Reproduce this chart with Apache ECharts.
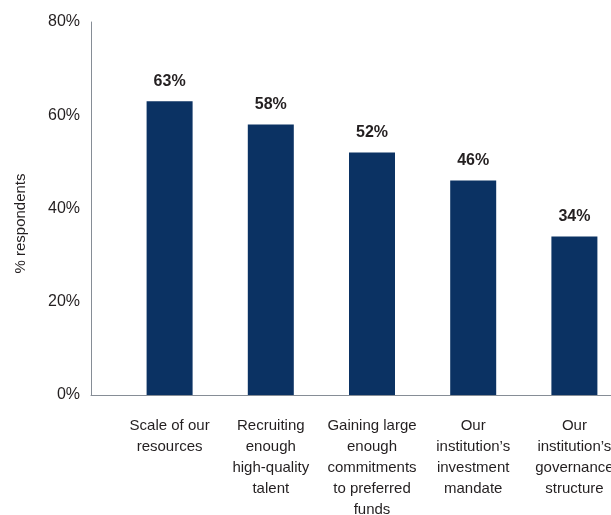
<!DOCTYPE html>
<html>
<head>
<meta charset="utf-8">
<script src="https://cdn.jsdelivr.net/npm/echarts@6/dist/echarts.min.js"></script>
<style>
  html, body { margin: 0; padding: 0; background: #fff; }
  #chart { width: 611px; height: 515px; }
</style>
</head>
<body>
<div id="chart"></div>
<script>
// Obstacles cited by respondents
const categories = [
  'Scale of our\nresources',
  'Recruiting\nenough\nhigh-quality\ntalent',
  'Gaining large\nenough\ncommitments\nto preferred\nfunds',
  'Our\ninstitution\u2019s\ninvestment\nmandate',
  'Our\ninstitution\u2019s\ngovernance\nstructure'
];
const shares = [63, 58, 52, 46, 34];
const yTicks = [0, 20, 40, 60, 80];

const textColor = '#231f20';
const axisColor = '#868d96';
const barColor = '#0b3263';
const font = 'Liberation Sans, Arial, sans-serif';

const chart = echarts.init(document.getElementById('chart'), null, { renderer: 'canvas' });

chart.setOption({
  animation: false,
  backgroundColor: '#fff',
  grid: [
    // frame: y axis and the baseline
    { left: 91, right: 0, top: 22, bottom: 120, containLabel: false, outerBoundsMode: 'none' },
    // bars (the last band runs past the right edge)
    { left: 119, width: 506, top: 22, bottom: 120, containLabel: false, outerBoundsMode: 'none' }
  ],
  xAxis: [
    {
      gridIndex: 0, type: 'value', min: 0, max: 1,
      axisLine: { show: true, lineStyle: { color: axisColor, width: 1 } },
      axisTick: { show: false }, axisLabel: { show: false }, splitLine: { show: false }
    },
    {
      gridIndex: 1, type: 'category', data: categories,
      axisLine: { show: false }, axisTick: { show: false },
      axisLabel: {
        interval: 0, margin: 20, color: textColor,
        fontFamily: font, fontSize: 15, lineHeight: 21, align: 'center'
      }
    }
  ],
  yAxis: [
    {
      gridIndex: 0, type: 'value',
      min: yTicks[0], max: yTicks[yTicks.length - 1], interval: 20,
      name: '% respondents', nameLocation: 'middle', nameGap: 63,
      nameTextStyle: { color: textColor, fontFamily: font, fontSize: 15, padding: [0, 30, 0, 0] },
      axisLine: { show: true, lineStyle: { color: axisColor, width: 1 } },
      axisTick: { show: false }, splitLine: { show: false },
      axisLabel: { formatter: '{value}%', color: textColor, fontFamily: font, fontSize: 16, margin: 11 }
    },
    {
      gridIndex: 1, type: 'value', min: yTicks[0], max: yTicks[yTicks.length - 1], show: false
    }
  ],
  series: [{
    type: 'bar',
    xAxisIndex: 1, yAxisIndex: 1,
    data: shares,
    barWidth: 46,
    itemStyle: { color: barColor },
    label: {
      show: true, position: 'top', distance: 12,
      formatter: '{c}%', color: textColor,
      fontFamily: font, fontSize: 16, fontWeight: 'bold'
    }
  }]
});
</script>
</body>
</html>
